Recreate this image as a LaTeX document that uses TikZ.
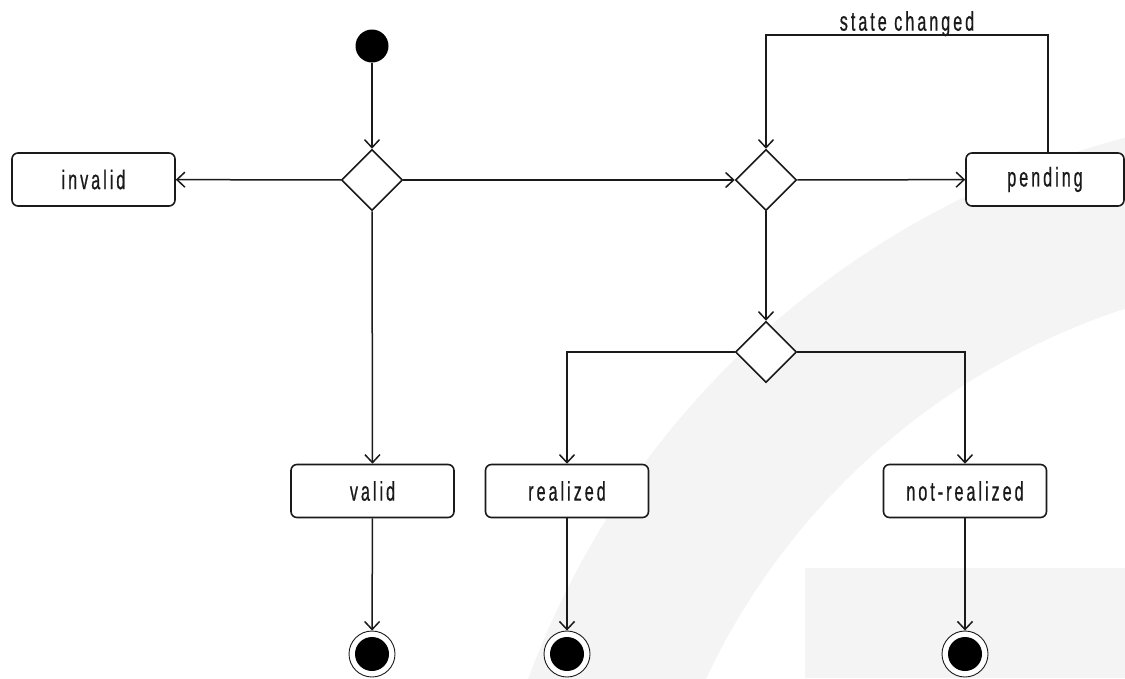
\documentclass[tikz,border=0pt]{standalone}
\usepackage{fontspec}
\setmainfont{Liberation Sans}[FakeStretch=0.6, LetterSpace=11, FakeBold=0.6]
\usetikzlibrary{arrows.meta,shapes.geometric}
\definecolor{wm}{HTML}{F4F4F4}
\definecolor{ink}{HTML}{1A1A1A}
\begin{document}
\begin{tikzpicture}[x=1pt,y=-1pt,
  box/.style={draw=ink, line width=1.6pt, rounded corners=6pt, fill=white,
    minimum width=163pt, minimum height=53pt, inner sep=0pt,
    text=ink, font=\fontsize{27}{29}\selectfont},
  dec/.style={draw=ink, diamond, aspect=1, line width=1.6pt, fill=white,
    minimum width=61pt, minimum height=61pt, inner sep=0pt},
  startnode/.style={circle, fill=black, minimum size=33pt, inner sep=0pt},
  endnode/.style={circle, draw=ink, line width=0.9pt, fill=white,
    minimum size=46pt, inner sep=0pt,
    path picture={\fill[black] (path picture bounding box.center) circle[radius=17pt];}},
  flow/.style={draw=ink, line width=1.5pt,
    -{Straight Barb[length=8pt,width=15pt,line width=1.5pt]}},
  lbl/.style={text=ink, font=\fontsize{27}{29}\selectfont, inner sep=0pt, yshift=-2pt}
]
\useasboundingbox (0,0) rectangle (1125,678);
% background watermark
\fill[white] (0,0) rectangle (1125,678);
\begin{scope}
  \clip (0,0) rectangle (1125,678);
  \fill[wm, even odd rule] (1344,979) circle[radius=869] (1344,979) circle[radius=705];
  \fill[wm] (805,568) rectangle (1125,678);
\end{scope}

% nodes
\node[startnode] (s) at (372,46) {};
\node[dec] (d1) at (372,180) {};
\node[box] (inv) at (93.5,179.5) {invalid};
\node[dec] (d2) at (766,180) {};
\node[box, minimum width=158pt] (pen) at (1045,179.5) {pending};
\node[dec] (d3) at (766,352) {};
\node[box] (val) at (372.5,491) {valid};
\node[box] (rea) at (567,491) {realized};
\node[box] (nrea) at (965,491) {not-realized};
\node[endnode] (e1) at (372,654) {};
\node[endnode] (e2) at (567,654) {};
\node[endnode] (e3) at (965,654) {};
\coordinate (lt) at (1048,35);

% connectors
\draw[flow] (s) -- (d1);
\draw[flow] (d1) -- (inv);
\draw[flow] (d1) -- (d2);
\draw[flow] (d2) -- (pen);
\draw[flow] (pen.north -| lt) -- (lt) -- node[lbl, above] {state changed} (lt -| d2.north) -- (d2.north);
\draw[flow] (d1) -- (val);
\draw[flow] (d2) -- (d3);
\draw[flow] (d3.west) -| (rea.north);
\draw[flow] (d3.east) -| (nrea.north);
\draw[flow] (val) -- (e1);
\draw[flow] (rea) -- (e2);
\draw[flow] (nrea) -- (e3);
\end{tikzpicture}
\end{document}
